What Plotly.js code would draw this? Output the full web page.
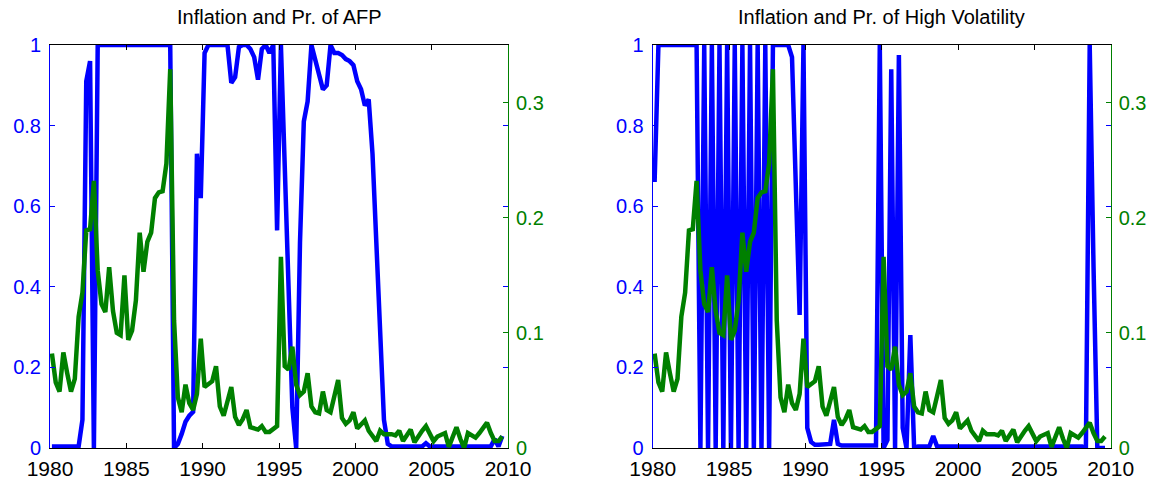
<!DOCTYPE html>
<html>
<head>
<meta charset="utf-8">
<script src="https://cdn.plot.ly/plotly-3.0.1.min.js"></script>
<style>
html,body{margin:0;padding:0;background:#ffffff;}
#chart{width:1151px;height:481px;}
</style>
</head>
<body>
<div id="chart"></div>
<script>
// Quarterly data, first observation 1980Q1 (plotted at mid-quarter)
const firstQuarter = 1980.125;
const quarterStep = 0.25;

// Inflation (right axis, green) - same series in both panels
const inflation = [
0.082,0.057,0.049,0.083,0.065,0.049,0.060,0.114,0.135,0.189,
0.190,0.232,0.154,0.125,0.118,0.157,0.119,0.100,0.098,0.150,
0.094,0.102,0.128,0.187,0.153,0.179,0.187,0.217,0.222,0.223,
0.247,0.329,0.111,0.044,0.031,0.055,0.039,0.033,0.047,0.095,
0.053,0.055,0.058,0.071,0.036,0.028,0.040,0.053,0.027,0.020,
0.025,0.033,0.018,0.017,0.016,0.019,0.014,0.014,0.016,0.019,
0.166,0.071,0.068,0.088,0.055,0.046,0.049,0.065,0.036,0.031,
0.030,0.049,0.033,0.031,0.045,0.059,0.026,0.021,0.024,0.031,
0.017,0.020,0.024,0.015,0.010,0.006,0.015,0.012,0.012,0.012,
0.011,0.015,0.006,0.011,0.016,0.005,0.011,0.015,0.019,0.012,
0.006,0.010,0.011,0.013,0.001,0.010,0.018,0.008,0.000,0.013,
0.011,0.009,0.013,0.017,0.022,0.013,0.006,0.006,0.010
];

// Probability of AFP regime (left axis, blue) - left panel
const probAFP = [
0.004,0.004,0.004,0.004,0.004,0.004,0.004,0.004,0.070,0.910,
0.960,0.000,1.000,1.000,1.000,1.000,1.000,1.000,1.000,1.000,
1.000,1.000,1.000,1.000,1.000,1.000,1.000,1.000,1.000,1.000,
1.000,1.000,0.000,0.010,0.035,0.065,0.080,0.090,0.730,0.620,
0.980,1.000,1.000,1.000,1.000,1.000,1.000,0.906,0.920,0.995,
1.000,1.000,0.990,0.970,0.914,0.990,1.000,0.980,1.000,0.540,
1.000,0.700,0.400,0.100,0.000,0.510,0.810,0.860,1.000,0.965,
0.930,0.890,0.900,1.000,0.980,0.980,0.975,0.965,0.960,0.950,
0.910,0.890,0.850,0.865,0.730,0.500,0.270,0.070,0.010,0.004,
0.004,0.004,0.004,0.004,0.004,0.004,0.004,0.004,0.012,0.004,
0.004,0.004,0.004,0.004,0.004,0.004,0.004,0.004,0.004,0.004,
0.004,0.004,0.004,0.004,0.004,0.004,0.022,0.004,0.030
];

// Probability of high volatility regime (left axis, blue) - right panel
const probHighVol = [
0.660,1.000,1.000,1.000,1.000,1.000,1.000,1.000,1.000,1.000,
1.000,1.000,0.000,1.000,0.000,1.000,0.000,1.000,0.000,1.000,
0.000,1.000,0.000,1.000,0.000,1.000,0.000,1.000,0.000,1.000,
0.000,1.000,1.000,1.000,1.000,1.000,0.970,0.650,0.330,1.000,
0.050,0.015,0.008,0.008,0.008,0.008,0.010,0.070,0.010,0.006,
0.006,0.006,0.006,0.006,0.006,0.006,0.006,0.006,0.006,1.000,
0.000,0.020,0.940,0.000,0.975,0.050,0.000,0.280,0.000,0.004,
0.004,0.004,0.004,0.030,0.004,0.004,0.004,0.004,0.004,0.004,
0.004,0.004,0.004,0.004,0.004,0.004,0.004,0.004,0.004,0.004,
0.004,0.004,0.004,0.004,0.004,0.004,0.004,0.004,0.004,0.004,
0.004,0.004,0.004,0.004,0.004,0.004,0.004,0.004,0.004,0.004,
0.004,0.004,0.004,0.000,1.000,0.450,0.000,0.000,0.000
];

const yearTicks = [1980,1985,1990,1995,2000,2005,2010];
const leftTicks = [0,0.2,0.4,0.6,0.8,1];
const leftTickText = ['0','0.2','0.4','0.6','0.8','1'];
const rightTicks = [0,0.1,0.2,0.3];
const rightTickText = ['0','0.1','0.2','0.3'];
const panelTitles = ['Inflation and Pr. of AFP','Inflation and Pr. of High Volatility'];

const dates = inflation.map((_, k) => firstQuarter + k * quarterStep);

const BLUE = '#0000ff';
const GREEN = '#008000';
const FONT = 'Liberation Sans, Arial, Helvetica, sans-serif';
const W = 1151, H = 481;
const LW = 4.5;

const traces = [
  {x: dates, y: probAFP, xaxis: 'x', yaxis: 'y', type: 'scatter', mode: 'lines',
   line: {color: BLUE, width: LW}, hoverinfo: 'skip'},
  {x: dates, y: inflation, xaxis: 'x', yaxis: 'y2', type: 'scatter', mode: 'lines',
   line: {color: GREEN, width: LW}, hoverinfo: 'skip'},
  {x: dates, y: probHighVol, xaxis: 'x2', yaxis: 'y3', type: 'scatter', mode: 'lines',
   line: {color: BLUE, width: LW}, hoverinfo: 'skip'},
  {x: dates, y: inflation, xaxis: 'x2', yaxis: 'y4', type: 'scatter', mode: 'lines',
   line: {color: GREEN, width: LW}, hoverinfo: 'skip'}
];

const yDom = [(H - 448) / H, (H - 45) / H];
const xDom1 = [50 / W, 508 / W];
const xDom2 = [652.7 / W, 1110.7 / W];

function xAxis(domain, anchor) {
  return {
    domain: domain, anchor: anchor, range: [1980, 2010],
    tickvals: yearTicks, ticktext: yearTicks.map(String),
    ticks: 'inside', ticklen: 5, tickwidth: 1, tickcolor: '#000',
    showline: true, linecolor: '#000', linewidth: 1, mirror: 'ticks',
    showgrid: false, zeroline: false, automargin: false, fixedrange: true,
    ticklabelstandoff: 2,
    tickfont: {family: FONT, size: 21, color: '#000'}
  };
}
function yLeft(anchor) {
  return {
    domain: yDom, anchor: anchor, range: [0, 1],
    tickvals: leftTicks, ticktext: leftTickText,
    ticks: 'inside', ticklen: 5, tickwidth: 1, tickcolor: BLUE,
    showline: true, linecolor: BLUE, linewidth: 1, mirror: 'ticks',
    showgrid: false, zeroline: false, automargin: false, fixedrange: true,
    ticklabelstandoff: 4,
    tickfont: {family: FONT, size: 20, color: BLUE}
  };
}
function yRight(anchor, over) {
  return {
    overlaying: over, anchor: anchor, side: 'right', range: [0, 0.35],
    tickvals: rightTicks, ticktext: rightTickText,
    ticks: 'inside', ticklen: 5, tickwidth: 1, tickcolor: GREEN,
    showline: true, linecolor: GREEN, linewidth: 1,
    showgrid: false, zeroline: false, automargin: false, fixedrange: true,
    ticklabelstandoff: 3,
    tickfont: {family: FONT, size: 20, color: GREEN}
  };
}

const layout = {
  width: W, height: H,
  margin: {l: 0, r: 0, t: 0, b: 0, pad: 0},
  paper_bgcolor: '#ffffff', plot_bgcolor: '#ffffff',
  showlegend: false,
  font: {family: FONT, color: '#000'},
  xaxis: xAxis(xDom1, 'y'),
  yaxis: yLeft('x'),
  yaxis2: yRight('x', 'y'),
  xaxis2: xAxis(xDom2, 'y3'),
  yaxis3: yLeft('x2'),
  yaxis4: yRight('x2', 'y3'),
  annotations: [
    {text: panelTitles[0], xref: 'paper', yref: 'paper',
     x: (xDom1[0] + xDom1[1]) / 2, y: 1 - 17 / H, xanchor: 'center', yanchor: 'middle',
     showarrow: false, font: {family: FONT, size: 20, color: '#000'}},
    {text: panelTitles[1], xref: 'paper', yref: 'paper',
     x: (xDom2[0] + xDom2[1]) / 2, y: 1 - 17 / H, xanchor: 'center', yanchor: 'middle',
     showarrow: false, font: {family: FONT, size: 20, color: '#000'}}
  ]
};

Plotly.newPlot('chart', traces, layout, {staticPlot: true, displayModeBar: false});
</script>
</body>
</html>
